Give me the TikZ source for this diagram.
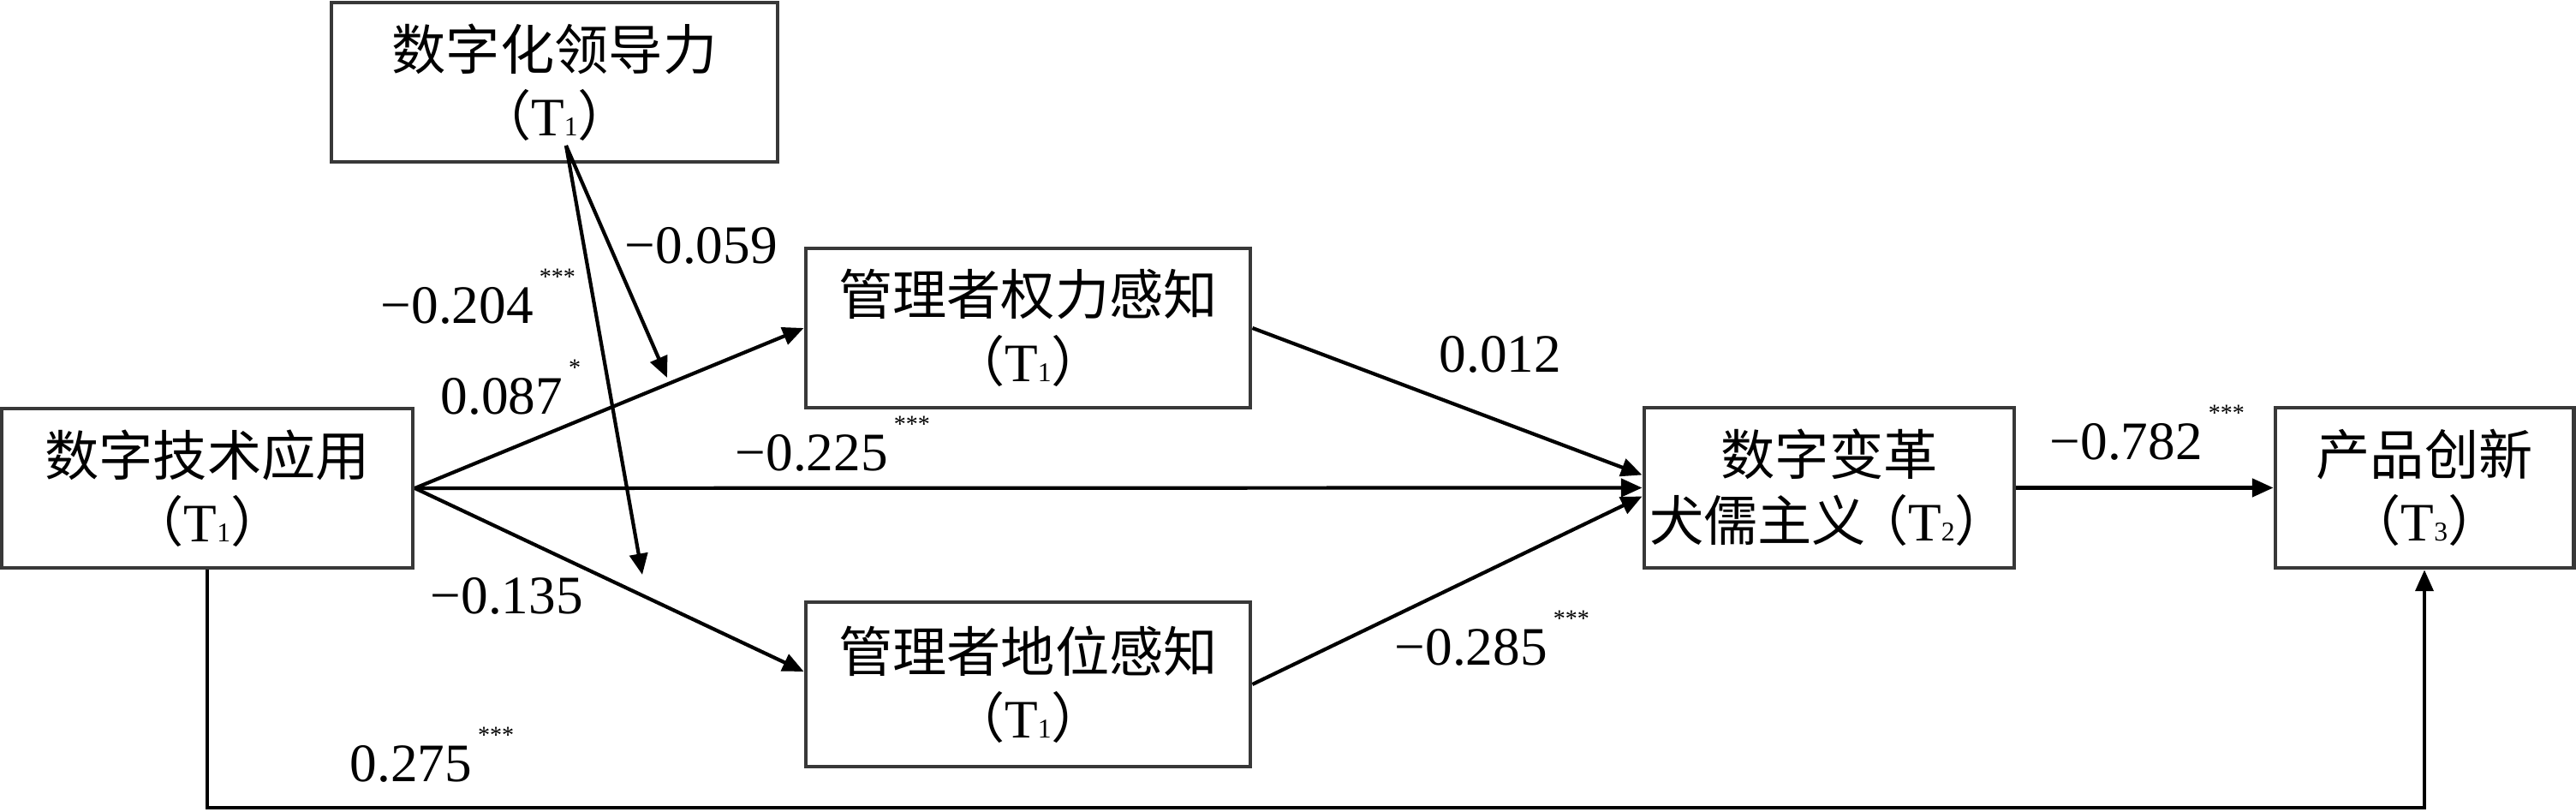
\documentclass[tikz,border=0pt]{standalone}
\usepackage{fontspec}
\setmainfont{Liberation Serif}
\newfontfamily\cjk{Noto Sans CJK SC}
\usetikzlibrary{arrows.meta}

\newcommand{\period}[1]{{\cjk （}T{\fontsize{9}{9}\selectfont #1}{\cjk ）}}
\newcommand{\stars}[1]{\hspace{2pt}\raisebox{13pt}{\fontsize{8}{8}\selectfont #1}}

\begin{document}
\begin{tikzpicture}[
    var/.style={draw=black!78, line width=1.4pt, align=center, inner sep=0pt, font=\fontsize{18}{22}\selectfont},
    effect/.style={line width=1.2pt, -{Triangle[length=7pt,width=6pt]}},
    coef/.style={anchor=base west, inner sep=0pt, font=\fontsize{18}{18}\selectfont}
]
    \useasboundingbox (0,0) rectangle (30.08,9.48);

    \node[var, minimum width=5.21cm, minimum height=1.86cm] (leader) at (6.475,8.52) {{\cjk 数字化领导力}\\\period{1}};
    \node[var, minimum width=4.80cm, minimum height=1.86cm] (tech) at (2.42,3.78) {{\cjk 数字技术应用}\\\period{1}};
    \node[var, minimum width=5.19cm, minimum height=1.86cm] (power) at (12.005,5.65) {{\cjk 管理者权力感知}\\\period{1}};
    \node[var, minimum width=5.19cm, minimum height=1.92cm] (status) at (12.005,1.49) {{\cjk 管理者地位感知}\\\period{1}};
    \node[var, minimum width=4.32cm, minimum height=1.87cm] (cyn) at (21.36,3.785) {{\cjk 数字变革}\\{\cjk 犬儒主义}\hspace{-4pt}\period{2}\hspace{-9pt}};
    \node[var, minimum width=3.48cm, minimum height=1.87cm] (prod) at (28.31,3.785) {{\cjk 产品创新}\\\period{3}};

    \draw[effect] (tech.east) -- (power.west);
    \draw[effect] (tech.east) -- ([yshift=0.15cm]status.west);
    \draw[effect] (tech.east) -- (cyn.west);
    \draw[effect] (power.east) -- ([yshift=0.15cm]cyn.west);
    \draw[effect] (status.east) -- ([yshift=-0.1cm]cyn.west);
    \draw[effect] (cyn.east) -- (prod.west);

    \coordinate (low) at (0,0.05);
    \draw[effect, line width=0.9pt] (tech.south) -- (tech.south |- low) -| (prod.south);

    % moderator
    \coordinate (mod) at (6.61,7.78);
    \coordinate (ontop) at (7.79,5.07);
    \coordinate (onlow) at (7.50,2.77);
    \draw[effect] (mod) -- (ontop);
    \draw[effect] (mod) -- (onlow);

    \node[coef] (c059) at (7.29,6.40) {−0.059};
    \node[coef] (c204) at (4.44,5.70) {−0.204\stars{***}};
    \node[coef] (c087) at (5.14,4.64) {0.087\stars{*}};
    \node[coef] (c225) at (8.58,3.98) {−0.225\stars{***}};
    \node[coef] (c135) at (5.02,2.31) {−0.135};
    \node[coef] (c275) at (4.08,0.35) {0.275\stars{***}};
    \node[coef] (c012) at (16.80,5.13) {0.012};
    \node[coef] (c285) at (16.28,1.71) {−0.285\stars{***}};
    \node[coef] (c782) at (23.93,4.11) {−0.782\stars{***}};
\end{tikzpicture}
\end{document}
